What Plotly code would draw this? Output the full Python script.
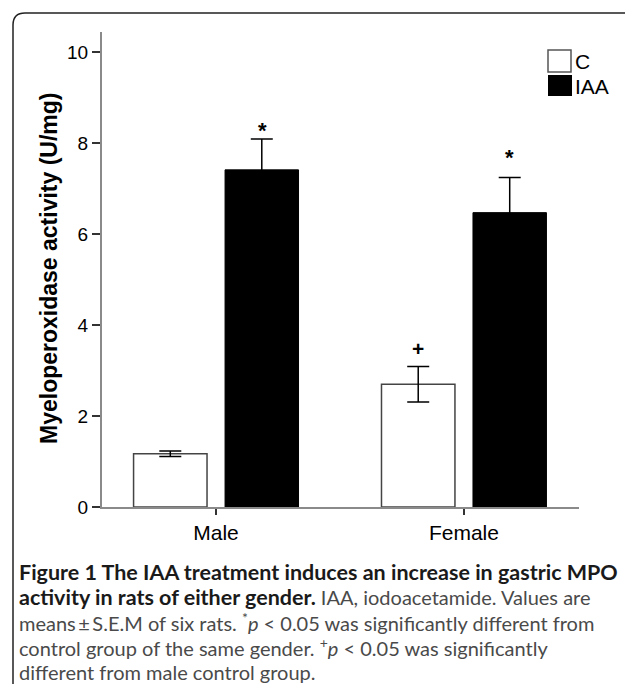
import plotly.graph_objects as go

# ---- data ----
groups = ["Male", "Female"]
c_mean = [1.17, 2.70]
c_sem = [0.06, 0.39]
iaa_mean = [7.41, 6.47]
iaa_sem = [0.68, 0.77]
series_names = ["C", "IAA"]
y_tickvals = [0, 2, 4, 6, 8, 10]
sig_c = ["", "+"]
sig_iaa = ["*", "*"]
y_title = "Myeloperoxidase activity (U/mg)"

BOLD = "<span style='font-size:21.5px;color:#1a1a1a'><b>{}</b></span>"
caption_lines = [
    BOLD.format("Figure 1 The IAA treatment induces an increase in gastric MPO"),
    BOLD.format("activity in rats of either gender.") + " IAA, iodoacetamide. Values are",
    "means\u2009\u00b1\u2009S.E.M of six rats. <sup>*</sup><i>p</i> &lt; 0.05 was significantly different from",
    "control group of the same gender. <sup>+</sup><i>p</i> &lt; 0.05 was significantly",
    "different from male control group.",
]

# ---- layout geometry (reference pixels; page has an 8px body margin) ----
OFF = 8
W, H = 633 - OFF, 684 - OFF
L, R, T, B = 102 - OFF, 579 - OFF, 32 - OFF, 507 - OFF  # plot area in figure pixels
FONT = "Liberation Sans, Arial, sans-serif"
CAP_FONT = "Lato, Open Sans, sans-serif"


def px(x):
    return (x - OFF - L) / (R - L)


def py(y):
    return (B - (y - OFF)) / (B - T)


fig = go.Figure()
fig.add_trace(go.Bar(
    name=series_names[0], x=groups, y=c_mean,
    marker=dict(color="white", line=dict(color="#444444", width=1.5)),
    error_y=dict(type="data", array=c_sem, color="black", thickness=1.5, width=11),
))
fig.add_trace(go.Bar(
    name=series_names[1], x=groups, y=iaa_mean,
    marker=dict(color="black", line=dict(color="black", width=1)),
    error_y=dict(type="data", array=iaa_sem, color="black", thickness=1.5, width=11),
))

annotations = []
# significance marks
for g, m, s, t in zip(groups, c_mean, c_sem, sig_c):
    if t:
        annotations.append(dict(x=g, y=m + s, xref="x", yref="y", text="<b>" + t + "</b>",
                                showarrow=False, xshift=-46, yanchor="bottom", yshift=4,
                                font=dict(family=FONT, size=21, color="black")))
star_shift = [-6, 6]
for g, m, s, t, ys in zip(groups, iaa_mean, iaa_sem, sig_iaa, star_shift):
    if t:
        annotations.append(dict(x=g, y=m + s, xref="x", yref="y", text="<b>" + t + "</b>",
                                showarrow=False, xshift=46, yanchor="bottom", yshift=ys,
                                font=dict(family=FONT, size=22, color="black")))

# y title
annotations.append(dict(x=px(49), y=py(268), xref="paper", yref="paper", text="<b>" + y_title + "</b>",
                        textangle=-90, showarrow=False, xanchor="center", yanchor="middle",
                        font=dict(family=FONT, size=23, color="black")))

# legend (manual)
shapes = []
shapes.append(dict(type="rect", xref="paper", yref="paper", x0=px(548), x1=px(571), y0=py(72), y1=py(50),
                   fillcolor="white", line=dict(color="#555555", width=1.5)))
shapes.append(dict(type="rect", xref="paper", yref="paper", x0=px(548), x1=px(572), y0=py(96), y1=py(75),
                   fillcolor="black", line=dict(color="black", width=0)))
annotations.append(dict(x=px(573), y=py(61), xref="paper", yref="paper", text=series_names[0],
                        showarrow=False, xanchor="left", yanchor="middle",
                        font=dict(family=FONT, size=21, color="black")))
annotations.append(dict(x=px(573), y=py(86), xref="paper", yref="paper", text=series_names[1],
                        showarrow=False, xanchor="left", yanchor="middle",
                        font=dict(family=FONT, size=21, color="black")))

# caption
cap_y = [572, 597, 622, 647, 672]
for line, yy in zip(caption_lines, cap_y):
    annotations.append(dict(x=px(17), y=py(yy), xref="paper", yref="paper", text=line,
                            showarrow=False, xanchor="left", yanchor="middle",
                            font=dict(family=CAP_FONT, size=20, color="#4a4a4a")))

# rounded border
r = 12
path = (f"M {px(13)},{py(700)} L {px(13)},{py(13 + r)} Q {px(13)},{py(13)} {px(13 + r)},{py(13)} "
        f"L {px(650)},{py(13)}")
shapes.append(dict(type="path", xref="paper", yref="paper", path=path,
                   line=dict(color="#222222", width=1.5)))

fig.update_layout(
    width=W, height=H,
    margin=dict(l=L, r=W - R, t=T, b=H - B, pad=0),
    paper_bgcolor="white", plot_bgcolor="white",
    barmode="group", bargap=0.262, bargroupgap=0.197,
    showlegend=False,
    annotations=annotations, shapes=shapes,
    font=dict(family=FONT, color="black"),
)
fig.update_xaxes(range=[-0.46, 1.464], showline=True, linecolor="#8a8a8a", linewidth=2,
                 ticks="outside", ticklen=6, tickwidth=1.5, tickcolor="#333333",
                 tickfont=dict(family=FONT, size=21, color="black"), showgrid=False, zeroline=False)
fig.update_yaxes(range=[0, 10.44], tickvals=y_tickvals, showline=True, linecolor="#8a8a8a", linewidth=2,
                 ticks="outside", ticklen=8, tickwidth=1.5, tickcolor="#333333",
                 tickfont=dict(family=FONT, size=19, color="black"), showgrid=False, zeroline=False)

fig.write_html("out.html")
